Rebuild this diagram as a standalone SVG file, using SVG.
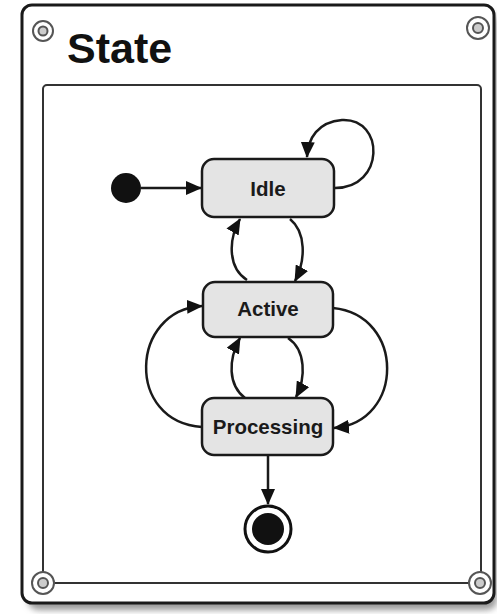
<svg xmlns="http://www.w3.org/2000/svg" width="497" height="614" viewBox="0 0 497 614">
<defs>
<style>
.frame{fill:#fff;stroke:#1a1a1a;stroke-width:3}
.inner{fill:#fff;stroke:#333;stroke-width:2}
.screw-o{fill:#fff;stroke:#555;stroke-width:2}
.screw-i{fill:#ccc;stroke:#555;stroke-width:2}
.node rect{fill:#e4e4e4;stroke:#1a1a1a;stroke-width:2.5}
.node text{font-family:"Liberation Sans",Arial,sans-serif;font-weight:bold;font-size:20.5px;fill:#1a1a1a;text-anchor:middle}
.title{font-family:"Liberation Sans",Arial,sans-serif;font-weight:bold;font-size:43px;fill:#111}
.edge{fill:none;stroke:#1a1a1a;stroke-width:2.5;marker-end:url(#arr)}
</style>
<marker id="arr" markerWidth="16" markerHeight="14" refX="15" refY="7" orient="auto" markerUnits="userSpaceOnUse">
<path d="M0,0 L16,7 L0,14 Z" fill="#111"/>
</marker>
<filter id="sh" x="-5%" y="-5%" width="115%" height="115%"><feGaussianBlur stdDeviation="3"/></filter>
</defs>
<g id="frame">
<rect x="28" y="12" width="469" height="598" rx="10" fill="#999" filter="url(#sh)"/>
<rect class="frame" x="22" y="5" width="472" height="598" rx="10"/>
<text class="title" x="67" y="63">State</text>
<rect class="inner" x="43" y="85" width="438" height="498" rx="4"/>
<circle class="screw-o" cx="43" cy="31" r="10"/><circle class="screw-i" cx="43" cy="31" r="4.5"/>
<circle class="screw-o" cx="478" cy="28" r="11"/><circle class="screw-i" cx="478" cy="28" r="5"/>
<circle class="screw-o" cx="43" cy="583" r="11"/><circle class="screw-i" cx="43" cy="583" r="5"/>
<circle class="screw-o" cx="480" cy="583" r="11"/><circle class="screw-i" cx="480" cy="583" r="5"/>
</g>
<g id="connectors">
<path class="edge" d="M141,188 L201,188"/>
<path class="edge" d="M335,188 C385,188 385,118 342,120 C318,122 308,138 307,157"/>
<path class="edge" d="M247,280 C228,268 228,240 240,219"/>
<path class="edge" d="M290,219 C306,232 306,260 295,281"/>
<path class="edge" d="M245,398 C228,385 228,360 240,338"/>
<path class="edge" d="M288,338 C306,350 306,378 296,397"/>
<path class="edge" d="M202,427 C125,422 130,310 202,306"/>
<path class="edge" d="M333,308 C405,315 405,422 334,428"/>
<path class="edge" d="M268,456 L268,504"/>
</g>
<g id="initial"><circle cx="126" cy="188" r="15" fill="#111"/></g>
<g id="idle" class="node"><rect x="202" y="159" width="132" height="58" rx="12"/><text x="268" y="196">Idle</text></g>
<g id="active" class="node"><rect x="203" y="282" width="130" height="55" rx="12"/><text x="268" y="316">Active</text></g>
<g id="processing" class="node"><rect x="202" y="398" width="131" height="57" rx="12"/><text x="268" y="434">Processing</text></g>
<g id="final"><circle cx="268" cy="529" r="23" fill="#fff" stroke="#111" stroke-width="3"/><circle cx="268" cy="529" r="16" fill="#111"/></g>
</svg>
